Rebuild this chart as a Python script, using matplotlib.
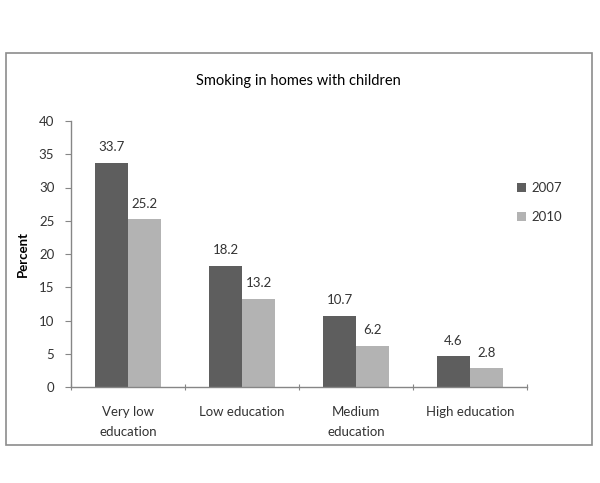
import matplotlib
matplotlib.use("Agg")
import matplotlib.pyplot as plt
from matplotlib.patches import Rectangle
import numpy as np

categories = ["Very low\neducation", "Low education", "Medium\neducation", "High education"]
series_names = ["2007", "2010"]
values_2007 = [33.7, 18.2, 10.7, 4.6]
values_2010 = [25.2, 13.2, 6.2, 2.8]
yticks = [0, 5, 10, 15, 20, 25, 30, 35, 40]

plt.rcParams['font.family'] = ['Lato', 'DejaVu Sans']
text_color = '#333333'
axis_color = '#868686'
dark = '#5e5e5e'
light = '#b3b3b3'

W, H = 600, 483
fig = plt.figure(figsize=(W/100, H/100), dpi=100)
fig.patch.set_facecolor('white')

# outer chart border
fig.patches.append(Rectangle((6/W, 1-445/H), (592-6)/W, (445-53)/H,
                             transform=fig.transFigure, fill=False,
                             edgecolor='#8c8c8c', linewidth=1.2))

ax = fig.add_axes([71/W, 1-387/H, (527-71)/W, (387-121)/H])
x = np.arange(len(categories))
bw = 0.29
b1 = ax.bar(x - bw/2, values_2007, bw, color=dark, label=series_names[0])
b2 = ax.bar(x + bw/2, values_2010, bw, color=light, label=series_names[1])
for bars, vals in ((b1, values_2007), (b2, values_2010)):
    for r, v in zip(bars, vals):
        ax.annotate(f"{v:.1f}", (r.get_x() + r.get_width()/2, v),
                    xytext=(0, 7), textcoords='offset points',
                    ha='center', va='bottom', fontsize=9.5, color=text_color)

ax.set_xlim(-0.5, len(categories) - 0.5)
ax.set_ylim(0, 40)
ax.set_yticks(yticks)
ax.set_yticklabels([str(t) for t in yticks], fontsize=9.5, color=text_color)
ax.set_xticks(np.arange(len(categories) + 1) - 0.5)
ax.set_xticklabels([])
ax.set_xticks(x, minor=True)
ax.set_xticklabels(categories, minor=True, fontsize=9.5, color=text_color,
                   linespacing=1.75, va='top')
ax.tick_params(axis='x', which='minor', length=0, pad=14)
ax.tick_params(axis='x', which='major', length=5, color=axis_color, direction='inout')
ax.tick_params(axis='y', length=4, color=axis_color, direction='out', pad=8)

for s in ('top', 'right'):
    ax.spines[s].set_visible(False)
for s in ('left', 'bottom'):
    ax.spines[s].set_color(axis_color)
    ax.spines[s].set_linewidth(1)

ax.set_ylabel("Percent", fontsize=9.5, fontweight='bold', color='black', labelpad=7)
fig.text(298/W, 1-81/H, "Smoking in homes with children", ha='center', va='center',
         fontsize=10.5, color='black')

leg = ax.legend(loc='upper left', bbox_to_anchor=(505/W, 1-170/H),
                bbox_transform=fig.transFigure, frameon=False, fontsize=9.5,
                handlelength=0.7, handleheight=0.7, handletextpad=0.4,
                labelspacing=1.3, labelcolor=text_color)

fig.savefig("out.png", dpi=100, facecolor='white')
